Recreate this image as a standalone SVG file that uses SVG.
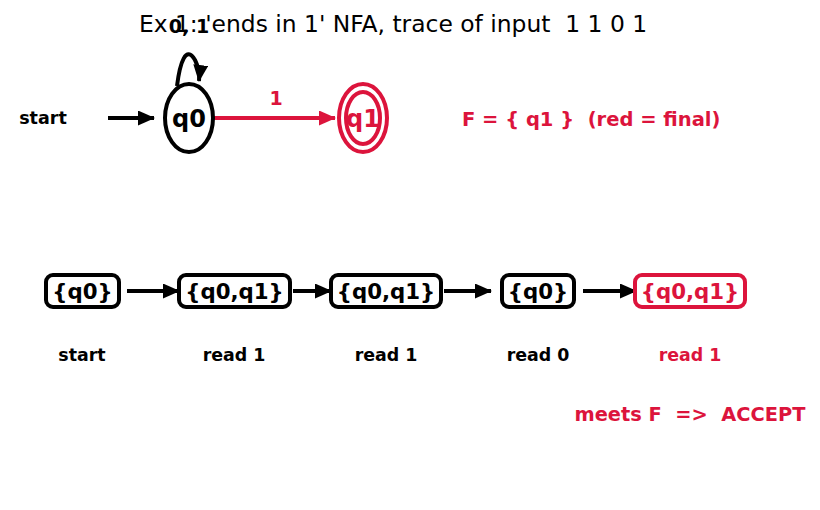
<svg xmlns="http://www.w3.org/2000/svg" width="820" height="510" viewBox="0 0 820 510">
<style>
text{font-family:"DejaVu Sans",sans-serif;white-space:pre}
.b{font-weight:bold}
.red{fill:#dc143c}
.blk{fill:#000}
.st{fill:none;stroke:#000;stroke-width:4}
.sr{fill:none;stroke:#dc143c;stroke-width:4}
.box{fill:#fff;stroke:#000;stroke-width:4}
.boxr{fill:#fff;stroke:#dc143c;stroke-width:4}
</style>
<defs>
<marker id="ak" markerUnits="userSpaceOnUse" markerWidth="17" markerHeight="15" refX="16" refY="7.5" orient="auto"><path d="M0,0 L17,7.5 L0,15 Z" fill="#000"/></marker>
<marker id="ar" markerUnits="userSpaceOnUse" markerWidth="17" markerHeight="15" refX="16" refY="7.5" orient="auto"><path d="M0,0 L17,7.5 L0,15 Z" fill="#dc143c"/></marker>
</defs>
<rect width="820" height="510" fill="#fff"/>
<text x="393" y="32" text-anchor="middle" font-size="23.4" xml:space="preserve">Ex 1: 'ends in 1' NFA, trace of input  1 1 0 1</text>
<g id="connectors">
<line x1="108" y1="118" x2="154" y2="118" class="st" marker-end="url(#ak)"/>
<path d="M177,86 C180,62 186,45 195,60 C198,66 200,72 199,81" class="st" marker-end="url(#ak)"/>
<line x1="214" y1="118" x2="335" y2="118" class="sr" marker-end="url(#ar)"/>
<text x="276" y="105" text-anchor="middle" font-size="19" class="b red">1</text>
<line x1="127" y1="291" x2="179" y2="291" class="st" marker-end="url(#ak)"/>
<line x1="293" y1="291" x2="331" y2="291" class="st" marker-end="url(#ak)"/>
<line x1="444" y1="291" x2="491" y2="291" class="st" marker-end="url(#ak)"/>
<line x1="583" y1="291" x2="636" y2="291" class="st" marker-end="url(#ak)"/>
</g>
<text x="189" y="33" text-anchor="middle" font-size="19" class="b blk">0, 1</text>
<g id="start"><text x="43" y="124" text-anchor="middle" font-size="17.5" class="b blk">start</text></g>
<g id="q0">
<ellipse cx="189" cy="118" rx="24" ry="34" class="st"/>
<text x="189" y="127" text-anchor="middle" font-size="24" class="b blk">q0</text>
</g>
<g id="q1">
<ellipse cx="363" cy="118" rx="24" ry="34" class="sr"/>
<ellipse cx="363" cy="118" rx="17" ry="26" class="sr" stroke-width="3"/>
<text x="363" y="127" text-anchor="middle" font-size="24" class="b red">q1</text>
</g>
<g id="legend"><text x="462" y="126" font-size="19.5" class="b red" xml:space="preserve">F = { q1 }  (red = final)</text></g>
<g id="s0">
<rect x="46" y="275" width="73" height="32" rx="7" class="box"/>
<text x="82.5" y="299" text-anchor="middle" font-size="21.3" class="b blk">{q0}</text>
<text x="82" y="361" text-anchor="middle" font-size="17.4" class="b blk">start</text>
</g>
<g id="s1">
<rect x="179" y="275" width="111" height="32" rx="7" class="box"/>
<text x="234.5" y="299" text-anchor="middle" font-size="21.3" class="b blk">{q0,q1}</text>
<text x="234" y="361" text-anchor="middle" font-size="17.4" class="b blk">read 1</text>
</g>
<g id="s2">
<rect x="331" y="275" width="110" height="32" rx="7" class="box"/>
<text x="386" y="299" text-anchor="middle" font-size="21.3" class="b blk">{q0,q1}</text>
<text x="386" y="361" text-anchor="middle" font-size="17.4" class="b blk">read 1</text>
</g>
<g id="s3">
<rect x="502" y="275" width="72" height="32" rx="7" class="box"/>
<text x="538" y="299" text-anchor="middle" font-size="21.3" class="b blk">{q0}</text>
<text x="538" y="361" text-anchor="middle" font-size="17.4" class="b blk">read 0</text>
</g>
<g id="s4">
<rect x="635" y="275" width="110" height="32" rx="7" class="boxr"/>
<text x="690" y="299" text-anchor="middle" font-size="21.3" class="b red">{q0,q1}</text>
<text x="690" y="361" text-anchor="middle" font-size="17.4" class="b red">read 1</text>
</g>
<g id="result"><text x="690" y="421" text-anchor="middle" font-size="19.4" class="b red" xml:space="preserve">meets F  =&gt;  ACCEPT</text></g>
</svg>
